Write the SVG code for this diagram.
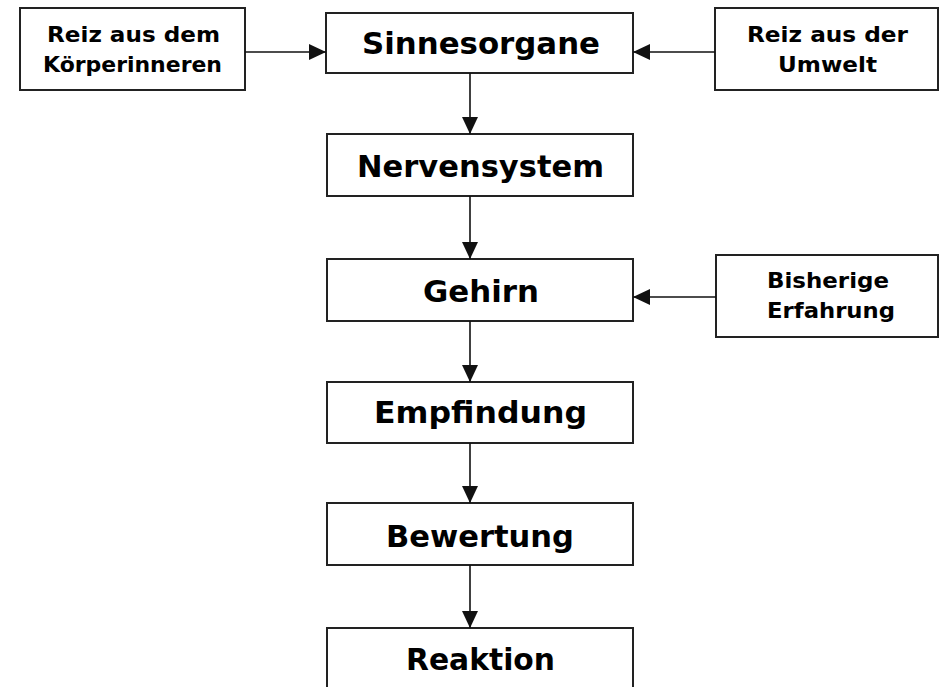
<svg xmlns="http://www.w3.org/2000/svg" width="939" height="687" viewBox="0 0 939 687">
<defs>
<style>
.box{fill:#fff;stroke:#222;stroke-width:2}
.big{font-family:"DejaVu Sans","Liberation Sans",Arial,sans-serif;font-weight:bold;font-size:31px;fill:#000}
.small{font-family:"DejaVu Sans","Liberation Sans",Arial,sans-serif;font-weight:bold;font-size:22px;fill:#000}
.con{stroke:#111;stroke-width:1.6;fill:none}
</style>
<marker id="ah" markerUnits="userSpaceOnUse" markerWidth="18" markerHeight="16" refX="17" refY="8" orient="auto">
<polygon points="0,0 17,8 0,16" fill="#111"/>
</marker>
</defs>
<rect width="939" height="687" fill="#fff"/>
<g id="koerper">
<rect class="box" x="20" y="8" width="225" height="82"/>
<text class="small" x="47" y="42" textLength="173" lengthAdjust="spacingAndGlyphs">Reiz aus dem</text>
<text class="small" x="43" y="72" textLength="179" lengthAdjust="spacingAndGlyphs">Körperinneren</text>
</g>
<g id="sinnesorgane">
<rect class="box" x="326" y="13" width="307" height="60"/>
<text class="big" x="362" y="54" textLength="238" lengthAdjust="spacingAndGlyphs">Sinnesorgane</text>
</g>
<g id="umwelt">
<rect class="box" x="715" y="8" width="223" height="82"/>
<text class="small" x="747" y="42" textLength="161" lengthAdjust="spacingAndGlyphs">Reiz aus der</text>
<text class="small" x="778" y="72" textLength="99" lengthAdjust="spacingAndGlyphs">Umwelt</text>
</g>
<g id="nervensystem">
<rect class="box" x="327" y="134" width="306" height="62"/>
<text class="big" x="357" y="177" textLength="247" lengthAdjust="spacingAndGlyphs">Nervensystem</text>
</g>
<g id="gehirn">
<rect class="box" x="327" y="259" width="306" height="62"/>
<text class="big" x="423" y="302" textLength="116" lengthAdjust="spacingAndGlyphs">Gehirn</text>
</g>
<g id="erfahrung">
<rect class="box" x="716" y="255" width="222" height="82"/>
<text class="small" x="767" y="288" textLength="122" lengthAdjust="spacingAndGlyphs">Bisherige</text>
<text class="small" x="767" y="318" textLength="128" lengthAdjust="spacingAndGlyphs">Erfahrung</text>
</g>
<g id="empfindung">
<rect class="box" x="327" y="382" width="306" height="61"/>
<text class="big" x="374" y="423" textLength="213" lengthAdjust="spacingAndGlyphs">Empfindung</text>
</g>
<g id="bewertung">
<rect class="box" x="327" y="503" width="306" height="62"/>
<text class="big" x="386" y="547" textLength="188" lengthAdjust="spacingAndGlyphs">Bewertung</text>
</g>
<g id="reaktion">
<rect class="box" x="327" y="628" width="306" height="70"/>
<text class="big" x="406" y="670" textLength="149" lengthAdjust="spacingAndGlyphs">Reaktion</text>
</g>
<g id="connectors">
<line class="con" x1="245" y1="52" x2="326" y2="52" marker-end="url(#ah)"/>
<line class="con" x1="715" y1="52" x2="633" y2="52" marker-end="url(#ah)"/>
<line class="con" x1="470" y1="73" x2="470" y2="134" marker-end="url(#ah)"/>
<line class="con" x1="470" y1="196" x2="470" y2="259" marker-end="url(#ah)"/>
<line class="con" x1="716" y1="297" x2="633" y2="297" marker-end="url(#ah)"/>
<line class="con" x1="470" y1="321" x2="470" y2="382" marker-end="url(#ah)"/>
<line class="con" x1="470" y1="443" x2="470" y2="503" marker-end="url(#ah)"/>
<line class="con" x1="470" y1="565" x2="470" y2="628" marker-end="url(#ah)"/>
</g>
</svg>
